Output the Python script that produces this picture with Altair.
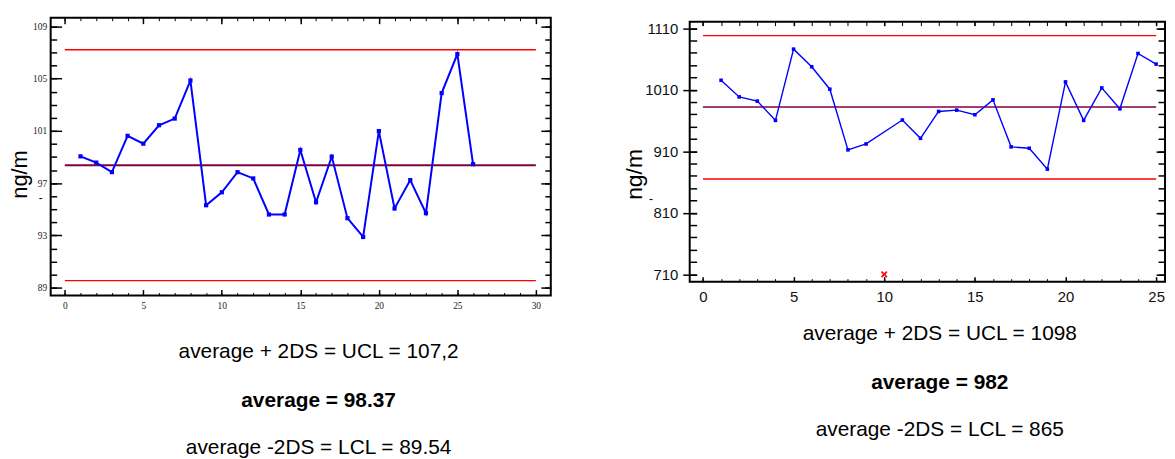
import altair as alt
import pandas as pd

# ---------------- left chart data ----------------
L_X = list(range(1, 27))
L_Y = [99.05, 98.57, 97.84, 100.62, 100.02, 101.43, 101.94, 104.85, 95.31, 96.30,
       97.84, 97.36, 94.60, 94.60, 99.54, 95.54, 99.03, 94.32, 92.88, 100.98,
       95.06, 97.23, 94.70, 103.89, 106.87, 98.45]
L_LIMITS = [107.2, 89.54]
L_AVG = [98.37]
L_XSPAN = [0, 30]
L_XTICKS = [0, 5, 10, 15, 20, 25, 30]
L_XMINOR = list(range(0, 31))
L_YTICKS = [89, 93, 97, 101, 105, 109]
L_YMINOR = list(range(89, 110))
L_XDOM = [-0.9, 30.95]
L_YDOM = [88.4, 109.66]
L_TEXT = ["average + 2DS = UCL = 107,2", "average = 98.37", "average -2DS = LCL = 89.54"]

# ---------------- right chart data ----------------
R_X = [1, 2, 3, 4, 5, 6, 7, 8, 9, 11, 12, 13, 14, 15, 16, 17, 18, 19, 20, 21, 22, 23, 24, 25]
R_Y = [1025.5, 998.5, 991.6, 960.3, 1076.1, 1047.5, 1011.0, 912.4, 922.0, 960.9,
       931.2, 974.8, 977.0, 969.5, 993.7, 917.3, 915.0, 881.1, 1022.8, 960.3,
       1013.1, 979.1, 1069.1, 1051.8]
R_OUT_X = [10]
R_OUT_Y = [710]
R_LIMITS = [1098, 865]
R_AVG = [982]
R_XSPAN = [0, 25]
R_XTICKS = [0, 5, 10, 15, 20, 25]
R_XMINOR = list(range(0, 26))
R_YTICKS = [710, 810, 910, 1010, 1110]
R_YMINOR = list(range(710, 1111, 20))
R_XDOM = [-0.73, 25.49]
R_YDOM = [698.2, 1120.8]
R_TEXT = ["average + 2DS = UCL = 1098", "average = 982", "average -2DS = LCL = 865"]

Y_TITLE = "ng/m"
DASH = "-"

BLUE = "#0000FF"
RED = "#FF0000"
MAROON = "#800040"


def ax(orient, values, size, offset=None, labels=False, **kw):
    return alt.Axis(orient=orient, values=values, tickSize=size,
                    offset=-size if offset is None else offset,
                    labels=labels, domain=False, grid=False, title=None,
                    ticks=True, tickColor="black", labelFlush=False,
                    labelOverlap=False, format="d", **kw)


def panel(x, y, limits, avg, span, xdom, ydom, axes, texts, W, H, st, extra=None):
    xs = alt.Scale(domain=xdom, nice=False, zero=False)
    ys = alt.Scale(domain=ydom, nice=False, zero=False)
    df = pd.DataFrame({"x": x, "y": y})
    lim = pd.DataFrame({"x0": [span[0]] * len(limits), "x1": [span[1]] * len(limits), "y": limits})
    av = pd.DataFrame({"x0": [span[0]], "x1": [span[1]], "y": avg})

    rule = alt.Chart(lim).mark_rule(color=RED, strokeWidth=st["lim_w"]).encode(
        x=alt.X("x0:Q", scale=xs, axis=axes["xb_minor"]), x2="x1:Q",
        y=alt.Y("y:Q", scale=ys, axis=axes["yl_minor"]))
    arule = alt.Chart(av).mark_rule(color=MAROON, strokeWidth=st["avg_w"]).encode(
        x=alt.X("x0:Q", scale=xs, axis=axes["xt_minor"]), x2="x1:Q",
        y=alt.Y("y:Q", scale=ys, axis=axes["yr_minor"]))
    line = alt.Chart(df).mark_line(color=BLUE, strokeWidth=st["line_w"]).encode(
        x=alt.X("x:Q", scale=xs, axis=axes["xb"]),
        y=alt.Y("y:Q", scale=ys, axis=axes["yl"]))
    pts = alt.Chart(df).mark_point(shape="square", filled=True, size=st["pt"],
                                   color=BLUE, opacity=1).encode(
        x=alt.X("x:Q", scale=xs, axis=axes["xt"]),
        y=alt.Y("y:Q", scale=ys, axis=axes["yr"]))
    layers = [rule, arule, line, pts]
    if extra is not None:
        ox, oy = extra
        odf = pd.DataFrame({"x": ox, "y": oy})
        layers.append(alt.Chart(odf).mark_point(
            shape="M -1 -1 L 1 1 M -1 1 L 1 -1", filled=False, size=30,
            color=RED, strokeWidth=1.6, opacity=1).encode(
            x=alt.X("x:Q", scale=xs, axis=None), y=alt.Y("y:Q", scale=ys, axis=None)))
    # y title and dash
    layers.append(alt.Chart(pd.DataFrame({"t": [Y_TITLE]})).mark_text(
        angle=270, font="Liberation Sans", fontSize=st["title_fs"], baseline="alphabetic",
        align="center", color="black").encode(
        text="t:N", x=alt.value(st["title_x"]), y=alt.value(st["title_y"])))
    layers.append(alt.Chart(pd.DataFrame({"t": [DASH]})).mark_text(
        font="Liberation Sans", fontSize=12, baseline="middle", align="center",
        color="black").encode(
        text="t:N", x=alt.value(st["dash_x"]), y=alt.value(st["dash_y"])))
    for i, t in enumerate(texts):
        layers.append(alt.Chart(pd.DataFrame({"t": [t]})).mark_text(
            font="Liberation Sans", fontSize=21, fontWeight="bold" if i == 1 else "normal",
            baseline="middle", align="center", color="black").encode(
            text="t:N", x=alt.value(st["text_x"]), y=alt.value(st["text_y"][i])))
    return alt.layer(*layers).resolve_axis(x="independent", y="independent").properties(
        width=W, height=H)


# left panel axes
SERIF = dict(labelFont="Liberation Serif", labelFontSize=9.5, labelColor="#222222")
L_AXES = {
    "xb": ax("bottom", L_XTICKS, 6, labels=True, labelPadding=5, tickWidth=1.5, **SERIF),
    "xb_minor": ax("bottom", L_XMINOR, 3, tickWidth=1),
    "xt": ax("top", L_XTICKS, 6, tickWidth=1.5),
    "xt_minor": ax("top", L_XMINOR, 3, tickWidth=1),
    "yl": ax("left", L_YTICKS, 11, labels=True, labelPadding=4, tickWidth=1.5, **SERIF),
    "yl_minor": ax("left", L_YMINOR, 6, tickWidth=1.5),
    "yr": ax("right", L_YTICKS, 10, tickWidth=1.5),
    "yr_minor": ax("right", L_YMINOR, 6, tickWidth=1.5),
}
SANS = dict(labelFont="Liberation Sans", labelFontSize=15, labelColor="#111111")
R_AXES = {
    "xb": ax("bottom", R_XTICKS, 5, labels=True, labelPadding=8, tickWidth=1.5, **SANS),
    "xb_minor": ax("bottom", R_XMINOR, 3, tickWidth=1),
    "xt": ax("top", R_XTICKS, 4, tickWidth=1.5),
    "xt_minor": ax("top", R_XMINOR, 4, tickWidth=1),
    "yl": ax("left", R_YTICKS, 14, offset=-7, labels=True, labelPadding=5, tickWidth=1.5, **SANS),
    "yl_minor": ax("left", R_YMINOR, 7, tickWidth=1.5),
    "yr": ax("right", R_YTICKS, 9, tickWidth=1.5),
    "yr_minor": ax("right", R_YMINOR, 7, tickWidth=1.5),
}

left = panel(L_X, L_Y, L_LIMITS, L_AVG, L_XSPAN, L_XDOM, L_YDOM, L_AXES, L_TEXT, 504, 280,
             dict(lim_w=1.5, avg_w=2, line_w=2, pt=18, title_fs=22, title_x=-24,
                  title_y=158, dash_x=-10, dash_y=182, text_x=270,
                  text_y=[337, 386, 434]))
right = panel(R_X, R_Y, R_LIMITS, R_AVG, R_XSPAN, R_XDOM, R_YDOM, R_AXES, R_TEXT, 479, 262,
              dict(lim_w=1.3, avg_w=1.5, line_w=1.4, pt=13, title_fs=23, title_x=-48,
                   title_y=154, dash_x=-39, dash_y=179, text_x=252,
                   text_y=[315, 364, 412]),
              extra=(R_OUT_X, R_OUT_Y))

spacer = alt.Chart(pd.DataFrame({"v": [0]})).mark_point(opacity=0).encode(
    x=alt.value(0), y=alt.value(0)).properties(
    width=479, height=4, view=alt.ViewBackground(strokeOpacity=0))

chart = alt.hconcat(
    left, alt.vconcat(spacer, right, spacing=0, bounds="flush"),
    spacing=140, bounds="flush"
).properties(
    padding={"left": 0, "top": 5, "right": 0, "bottom": 0},
    background="white"
).configure_view(stroke="black", strokeWidth=2)

chart.save("out.html", embed_options={"renderer": "svg", "actions": False})
